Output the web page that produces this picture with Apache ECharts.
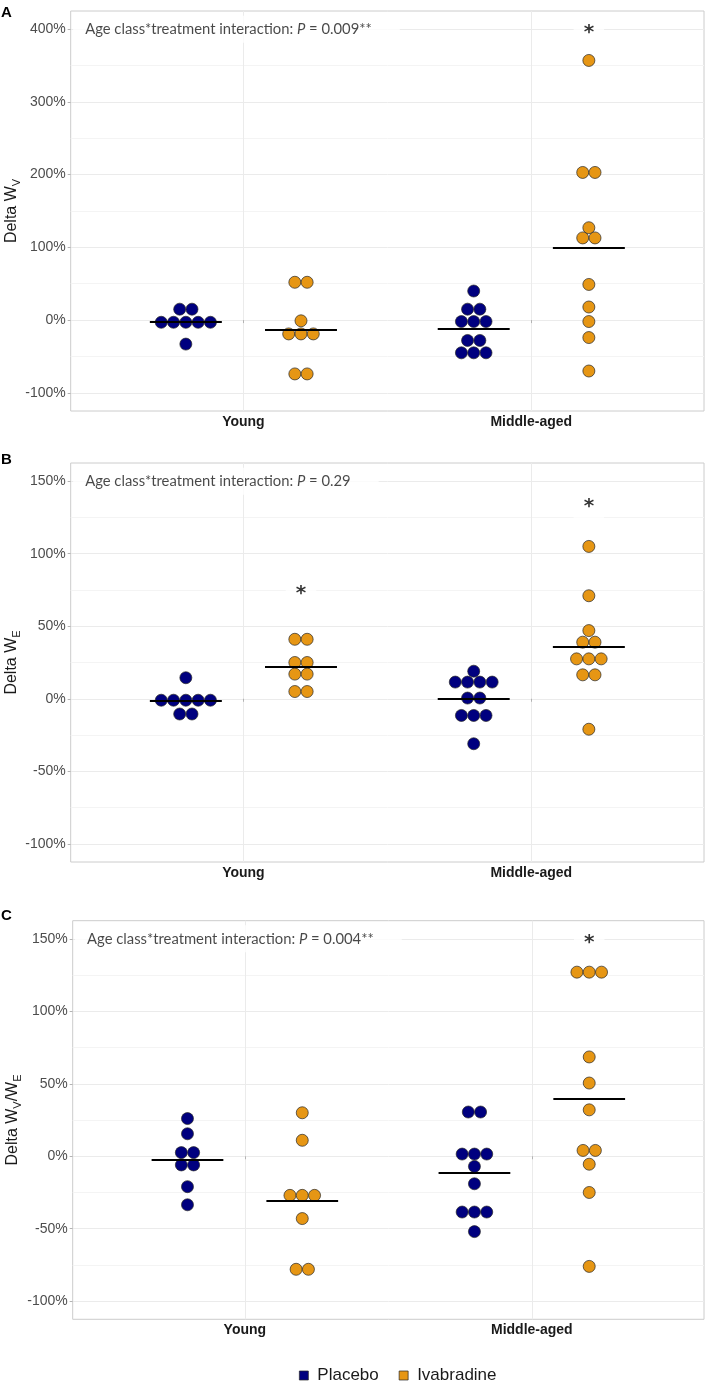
<!DOCTYPE html>
<html>
<head>
<meta charset="utf-8">
<script src="https://cdn.jsdelivr.net/npm/echarts@6.0.0/dist/echarts.min.js"></script>
<style>
html, body { margin: 0; padding: 0; background: #ffffff; }
#chart { width: 709px; height: 1390px; }
</style>
</head>
<body>
<div id="chart"></div>
<script>
// ---------------- DATA ----------------
const categories = ['Young', 'Middle-aged'];
const groups = ['Placebo', 'Ivabradine'];

// Panel A: Delta W_V (%)
const aYoungPlacebo = [15, 15, -3, -3, -3, -3, -3, -33];
const aYoungIvabradine = [52, 52, -1, -19, -19, -19, -74, -74];
const aMiddlePlacebo = [40, 15, 15, -2, -2, -2, -28, -28, -45, -45, -45];
const aMiddleIvabradine = [357, 203, 203, 127, 113, 113, 49, 18, -2, -24, -70];
const aMeansPlacebo = [-2.5, -11.5];
const aMeansIvabradine = [-13, 99];
const aTicks = [-100, 0, 100, 200, 300, 400];
const aStars = [{ category: 'Middle-aged', group: 'Ivabradine', y: 400 }];
const aNote = ['Age class*treatment interaction: ', 'P', ' = 0.009**'];

// Panel B: Delta W_E (%)
const bYoungPlacebo = [14.5, -1, -1, -1, -1, -1, -10.5, -10.5];
const bYoungIvabradine = [41, 41, 25, 25, 17, 17, 5, 5];
const bMiddlePlacebo = [19, 11.5, 11.5, 11.5, 11.5, 0.5, 0.5, -11.5, -11.5, -11.5, -31];
const bMiddleIvabradine = [105, 71, 47, 39, 39, 27.5, 27.5, 27.5, 16.5, 16.5, -21];
const bMeansPlacebo = [-1.5, 0];
const bMeansIvabradine = [22, 36];
const bTicks = [-100, -50, 0, 50, 100, 150];
const bStars = [
  { category: 'Young', group: 'Ivabradine', y: 75 },
  { category: 'Middle-aged', group: 'Ivabradine', y: 135 }
];
const bNote = ['Age class*treatment interaction: ', 'P', ' = 0.29'];

// Panel C: Delta W_V / W_E (%)
const cYoungPlacebo = [26, 15.5, 2.5, 2.5, -6, -6, -21, -33.5];
const cYoungIvabradine = [30, 11, -27, -27, -27, -43, -78, -78];
const cMiddlePlacebo = [30.5, 30.5, 1.5, 1.5, 1.5, -7, -19, -38.5, -38.5, -38.5, -52];
const cMiddleIvabradine = [127, 127, 127, 68.5, 50.5, 32, 4, 4, -5.5, -25, -76];
const cMeansPlacebo = [-2.5, -11.5];
const cMeansIvabradine = [-30.5, 39.5];
const cTicks = [-100, -50, 0, 50, 100, 150];
const cStars = [{ category: 'Middle-aged', group: 'Ivabradine', y: 150 }];
const cNote = ['Age class*treatment interaction: ', 'P', ' = 0.004**'];

// ---------------- STYLE / LAYOUT ----------------
const COLORS = { Placebo: '#00007f', Ivabradine: '#e69614' };
const DODGE = 0.2;          // group offset from category centre (axis units)
const MEAN_HALF = 0.125;    // half width of the mean bar (axis units)
const DOT_SIZE = 12;
const DOT_STEP = 12.3;      // horizontal spacing of stacked dots (px)
const NOTE_X = 0.45;

const panels = [
  { letter: 'A', top: 11, height: 400, left: 70.7, min: -125, max: 425, ticks: aTicks,
    data: [[aYoungPlacebo, aMiddlePlacebo], [aYoungIvabradine, aMiddleIvabradine]],
    means: [aMeansPlacebo, aMeansIvabradine], stars: aStars, note: aNote,
    title: 'Delta W{sub|V}', letterY: 5, nameGap: 48 },
  { letter: 'B', top: 463, height: 399, left: 70.7, min: -112.5, max: 162.5, ticks: bTicks,
    data: [[bYoungPlacebo, bMiddlePlacebo], [bYoungIvabradine, bMiddleIvabradine]],
    means: [bMeansPlacebo, bMeansIvabradine], stars: bStars, note: bNote,
    title: 'Delta W{sub|E}', letterY: 452, nameGap: 48 },
  { letter: 'C', top: 920.7, height: 398.6, left: 72.7, min: -112.5, max: 162.5, ticks: cTicks,
    data: [[cYoungPlacebo, cMiddlePlacebo], [cYoungIvabradine, cMiddleIvabradine]],
    means: [cMeansPlacebo, cMeansIvabradine], stars: cStars, note: cNote,
    title: 'Delta W{sub|V}/W{sub|E}', letterY: 908, nameGap: 49 }
];

function groupX(catIdx, grpIdx) {
  return catIdx + 1 + (grpIdx === 0 ? -DODGE : DODGE);
}

function stackItems(values, catIdx, grpIdx) {
  const counts = {};
  values.forEach(v => { counts[v] = (counts[v] || 0) + 1; });
  const seen = {};
  return values.map(v => {
    const k = seen[v] || 0;
    seen[v] = k + 1;
    const n = counts[v];
    return { value: [groupX(catIdx, grpIdx), v], symbolOffset: [(k - (n - 1) / 2) * DOT_STEP, 0] };
  });
}

const grid = [], xAxis = [], yAxis = [], series = [], graphic = [];

panels.forEach((p, i) => {
  grid.push({
    left: p.left, right: 5, top: p.top, height: p.height,
    show: true, borderColor: '#cccccc', borderWidth: 1, backgroundColor: 'transparent',
    containLabel: false, outerBoundsMode: 'none'
  });
  xAxis.push({
    type: 'value', gridIndex: i, min: 0.4, max: 2.6,
    axisLine: { show: false },
    axisTick: { show: true, length: 3, customValues: [1, 2], lineStyle: { color: '#b3b3b3' } },
    axisLabel: {
      customValues: [1, 2], margin: 4,
      formatter: v => categories[Math.round(v) - 1],
      fontFamily: 'Liberation Sans, Arial, sans-serif', fontWeight: 'bold', fontSize: 14, color: '#1a1a1a'
    },
    splitLine: { show: true, lineStyle: { color: '#ebebeb', width: 1 } }
  });
  yAxis.push({
    type: 'value', gridIndex: i, min: p.min, max: p.max,
    axisLine: { show: false },
    axisTick: { show: true, length: 3, customValues: p.ticks, lineStyle: { color: '#b3b3b3' } },
    axisLabel: {
      customValues: p.ticks, margin: 5,
      formatter: v => v + '%',
      fontFamily: 'Liberation Sans, Arial, sans-serif', fontSize: 14, color: '#4d4d4d'
    },
    splitLine: { show: true, lineStyle: { color: '#ebebeb', width: 1 } },
    minorTick: { show: false, splitNumber: 2 },
    minorSplitLine: { show: true, lineStyle: { color: '#f4f4f4', width: 1 } },
    name: p.title, nameLocation: 'middle', nameGap: p.nameGap, nameRotate: 90, nameMoveOverlap: false,
    nameTextStyle: {
      fontFamily: 'Liberation Sans, Arial, sans-serif', fontSize: 16, color: '#1a1a1a', lineHeight: 22,
      rich: { sub: { fontFamily: 'Liberation Sans, Arial, sans-serif', fontSize: 11, lineHeight: 11, verticalAlign: 'bottom', color: '#1a1a1a' } }
    }
  });

  groups.forEach((g, gi) => {
    const items = [];
    p.data[gi].forEach((vals, ci) => { items.push(...stackItems(vals, ci, gi)); });
    series.push({
      type: 'scatter', name: g, xAxisIndex: i, yAxisIndex: i,
      symbol: 'circle', symbolSize: DOT_SIZE,
      itemStyle: { color: COLORS[g], borderColor: '#262626', borderWidth: 0.7, opacity: 1 },
      emphasis: { disabled: true },
      data: items,
      z: 3,
      markLine: {
        silent: true, symbol: ['none', 'none'], label: { show: false },
        lineStyle: { color: '#000000', width: 2.2, type: 'solid' },
        emphasis: { disabled: true },
        z: 5,
        data: p.means[gi].map((m, ci) => [
          { coord: [groupX(ci, gi) - MEAN_HALF, m] },
          { coord: [groupX(ci, gi) + MEAN_HALF, m] }
        ])
      }
    });
  });

  // interaction note
  series.push({
    type: 'scatter', name: 'note' + i, xAxisIndex: i, yAxisIndex: i,
    symbolSize: 0.1, itemStyle: { color: 'rgba(0,0,0,0)' }, silent: true, z: 6,
    data: [{ value: [NOTE_X, p.ticks[p.ticks.length - 1]] }],
    label: {
      show: true, position: 'right', distance: 0, offset: [-12, 0],
      backgroundColor: '#ffffff', padding: [6, 28, 6, 12],
      formatter: '{n|' + p.note[0] + '}{i|' + p.note[1] + '}{n|' + p.note[2] + '}',
      rich: {
        n: { fontFamily: 'Lato, Open Sans, sans-serif', fontSize: 14.8, color: '#1a1a1a' },
        i: { fontFamily: 'Lato, Open Sans, sans-serif', fontSize: 14.8, fontStyle: 'italic', color: '#1a1a1a' }
      }
    }
  });

  // significance stars
  series.push({
    type: 'scatter', name: 'stars' + i, xAxisIndex: i, yAxisIndex: i,
    symbolSize: 0.1, itemStyle: { color: 'rgba(0,0,0,0)' }, silent: true, z: 6,
    data: p.stars.map(s => ({ value: [groupX(categories.indexOf(s.category), groups.indexOf(s.group)), s.y] })),
    label: {
      show: true, position: 'inside', formatter: '*', offset: [0, 4],
      backgroundColor: '#ffffff', padding: [2, 10, 0, 10],
      fontFamily: 'DejaVu Sans, sans-serif', fontSize: 20, fontWeight: 'bold', color: '#000000'
    }
  });

  graphic.push({
    type: 'text', left: 1, top: p.letterY, z: 10,
    style: { text: p.letter, fontFamily: 'Liberation Sans, Arial, sans-serif', fontSize: 15, fontWeight: 'bold', fill: '#000000' }
  });
});

const chart = echarts.init(document.getElementById('chart'), null, { renderer: 'canvas' });
chart.setOption({
  animation: false,
  backgroundColor: '#ffffff',
  grid, xAxis, yAxis, series, graphic,
  legend: {
    data: groups, left: 294, top: 1362,
    icon: 'rect', itemWidth: 9, itemHeight: 9, itemGap: 20,
    itemStyle: { borderColor: '#262626', borderWidth: 0.7 },
    textStyle: { fontFamily: 'Liberation Sans, Arial, sans-serif', fontSize: 17, color: '#1a1a1a', padding: [0, 0, 0, 4] },
    selectedMode: false
  }
});
</script>
</body>
</html>
